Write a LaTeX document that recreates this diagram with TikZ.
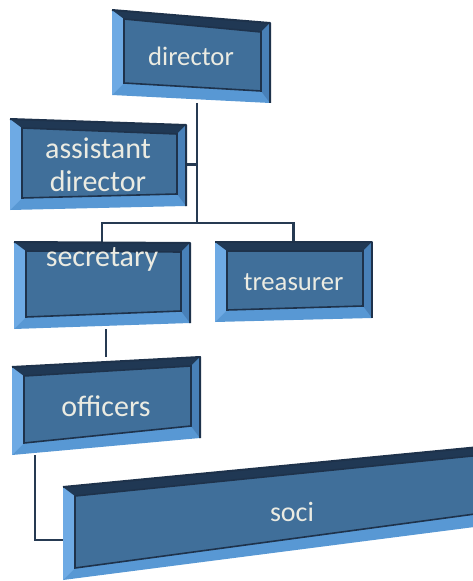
\documentclass[tikz,border=0pt]{standalone}
\usepackage{fontspec}
\setmainfont{Carlito}
\usetikzlibrary{calc}

\definecolor{facecol}{RGB}{64,111,154}
\definecolor{bevlow}{RGB}{88,152,212}
\definecolor{bevleft}{RGB}{110,170,228}
\definecolor{bevtop}{RGB}{32,56,84}
\definecolor{bevright}{RGB}{72,128,184}
\definecolor{rimcol}{RGB}{30,50,75}
\definecolor{textcol}{RGB}{235,235,226}
\definecolor{linkcol}{RGB}{38,58,82}

\pgfdeclarelayer{links}
\pgfdeclarelayer{frames}
\pgfsetlayers{links,frames,main}

% bevelled frame round a card: name, then how far the top-left / top-right
% corners drop and the bottom-right / bottom-left corners rise (px)
\newcommand\cardframe[5]{%
  \coordinate (#1-a) at ($(#1.north west)+(0,#2)$);
  \coordinate (#1-b) at ($(#1.north east)+(0,#3)$);
  \coordinate (#1-c) at ($(#1.south east)+(0,-#4)$);
  \coordinate (#1-d) at ($(#1.south west)+(0,-#5)$);
  \coordinate (#1-ai) at ($(#1-a)+(12,9)$);
  \coordinate (#1-bi) at ($(#1-b)+(-9,9)$);
  \coordinate (#1-ci) at ($(#1-c)+(-9,-12)$);
  \coordinate (#1-di) at ($(#1-d)+(12,-12)$);
  \fill[bevlow] (#1-a)--(#1-b)--(#1-c)--(#1-d)--cycle;
  \fill[bevleft] (#1-a)--(#1-ai)--(#1-di)--(#1-d)--cycle;
  \fill[bevtop] (#1-a)--(#1-b)--(#1-bi)--(#1-ai)--cycle;
  \fill[bevright] (#1-b)--(#1-c)--(#1-ci)--(#1-bi)--cycle;
  \filldraw[fill=facecol, draw=rimcol, line width=1.2pt] (#1-ai)--(#1-bi)--(#1-ci)--(#1-di)--cycle;
  \draw[rimcol, line width=1.5pt, line join=round] (#1-a)--(#1-b)--(#1-c);
}

\begin{document}
\begin{tikzpicture}[x=0.75pt, y=-0.75pt,
  card/.style={rectangle, inner sep=0pt, outer sep=0pt, text=textcol,
    font=\fontsize{20pt}{24.75pt}\selectfont, align=center},
  bigcard/.style={card, font=\fontsize{22.5pt}{24.75pt}\selectfont},
  link/.style={draw=linkcol, line width=1.6pt}]
\useasboundingbox (0,0) rectangle (472,581);

\node[card, minimum width=118.5pt, minimum height=69.75pt] (director) at (191,56.5) {director};
\node[bigcard, minimum width=132pt, minimum height=68.25pt] (assist) at (98,164.5) {assistant\\director};
\node[bigcard, minimum width=132pt, minimum height=65.25pt, text height=15pt, text depth=42.8pt] (secr) at (102,285.5) {secretary};
\node[card, minimum width=117.75pt, minimum height=60pt] (treas) at (293.5,282) {treasurer};
\node[bigcard, minimum width=141pt, minimum height=73.5pt] (offic) at (106,406) {officers};
\node[card, font=\fontsize{21pt}{25pt}\selectfont, minimum width=343.5pt, minimum height=102.75pt] (soci) at (292,511.5) {soci};

\coordinate (jn) at (197,223);
\coordinate (oc) at (35,540);

\begin{pgfonlayer}{frames}
\foreach \nm/\ta/\tb/\bb/\ba in {director/0/13/0/8, assist/0/6/4/0, secr/0/1/6/0,
    treas/0/0/4/0, offic/10/0/17/0, soci/44/0/59/0}
{
    \cardframe{\nm}{\ta}{\tb}{\bb}{\ba}
}
\end{pgfonlayer}

\begin{pgfonlayer}{links}
\draw[link] (jn |- director.south) -- (jn);
\draw[link] (assist.east) -- (assist.east -| jn);
\draw[link] (secr.north) |- (jn) -| (treas.north);
\draw[link] (offic.north) -- (offic.north |- secr.south);
\draw[link] (oc |- offic.south) -- (oc) -- (oc -| soci.west);
\end{pgfonlayer}
\end{tikzpicture}
\end{document}
